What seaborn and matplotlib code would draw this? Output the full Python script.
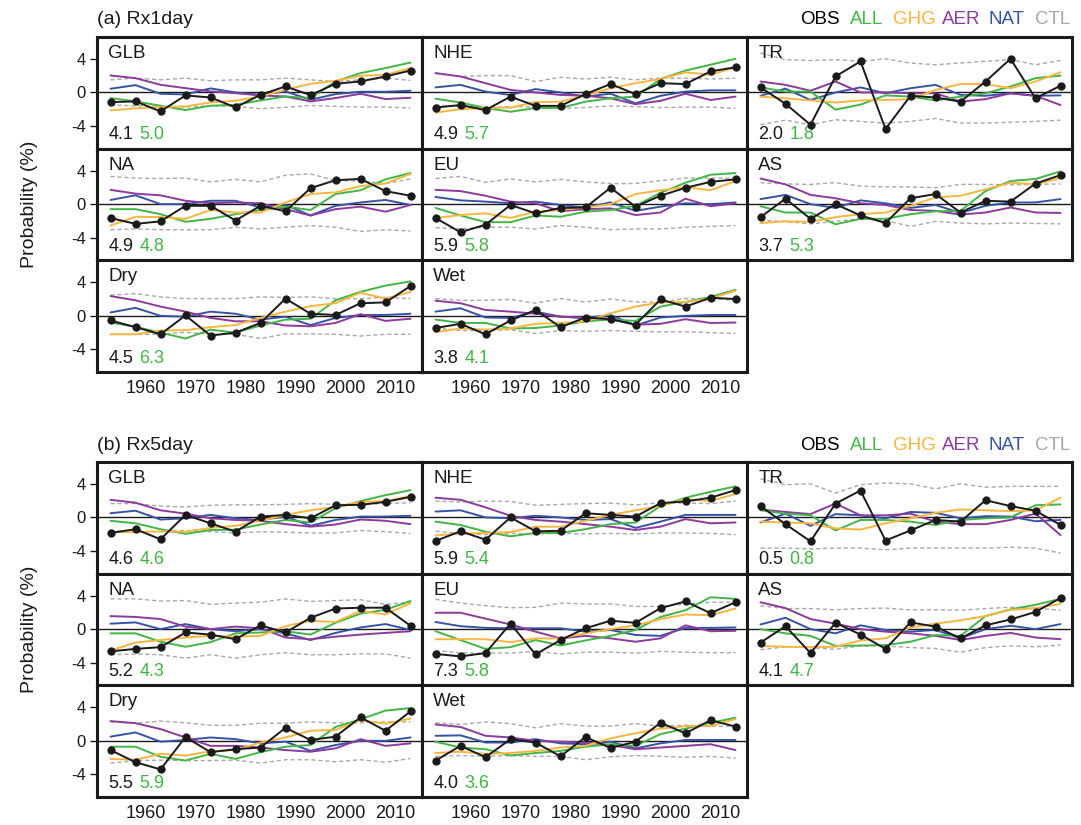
import numpy as np
import pandas as pd
import seaborn as sns
import matplotlib
matplotlib.use("Agg")
import matplotlib.pyplot as plt

# ---------------------------------------------------------------- data
years = list(range(1953, 2014, 5))
regions = ["GLB", "NHE", "TR", "NA", "EU", "AS", "Dry", "Wet"]
series = ["OBS", "ALL", "GHG", "AER", "NAT", "CTL"]
mypal = {"OBS": "#000000", "ALL": "#43b546", "GHG": "#f8b63f",
         "AER": "#8c3a9c", "NAT": "#3653a8", "CTL": "#a8a8a8"}

# each panel: OBS, ALL, GHG, AER, NAT, CTL upper, CTL lower (probability change, %)
rx1_GLB = [[-1.15, -1.07, -2.26, -0.36, -0.6, -1.78, -0.28, 0.71, -0.32, 1.03, 1.31, 1.9, 2.61],
           [-0.67, -1.07, -1.58, -2.1, -1.58, -1.47, -0.95, -0.48, -0.67, 1.31, 2.3, 2.9, 3.56],
           [-2.14, -1.9, -1.74, -1.66, -1.19, -0.99, -0.48, 0.32, 1.03, 1.39, 1.98, 2.1, 2.9],
           [2.02, 1.7, 0.91, 0.51, 0.12, -0.08, -0.36, -0.48, -1.07, -0.67, -0.16, -0.79, -0.63],
           [0.44, 0.87, -0.16, -0.24, 0.48, 0.0, -0.28, 0.12, -0.87, -0.2, 0.08, 0.08, 0.2],
           [1.5, 1.7, 1.5, 1.7, 1.39, 1.5, 1.5, 1.7, 1.5, 1.31, 1.5, 1.7, 1.43],
           [-1.47, -1.6, -1.66, -1.74, -1.6, -1.66, -1.94, -1.78, -1.55, -1.66, -1.74, -1.74, -1.86]]
rx1_NHE = [[-1.8, -1.5, -2.1, -0.5, -1.6, -1.6, -0.2, 1.0, -0.2, 1.1, 1.0, 2.5, 3.0],
           [-0.75, -1.2, -1.85, -2.3, -1.85, -1.85, -1.1, -0.7, -0.5, 1.6, 2.6, 3.3, 4.0],
           [-2.4, -2.0, -1.85, -1.8, -1.15, -1.1, -0.35, 0.5, 1.1, 1.6, 2.4, 2.1, 3.0],
           [2.3, 1.9, 1.1, 0.3, 0.0, -0.3, -0.4, -0.7, -1.4, -1.0, -0.15, -0.9, -0.5],
           [0.6, 0.9, 0.1, -0.3, 0.4, 0.0, -0.5, -0.15, -1.3, -0.4, 0.1, 0.25, 0.25],
           [2.3, 1.9, 2.0, 2.0, 1.3, 1.8, 1.6, 1.8, 1.5, 1.7, 1.7, 1.6, 1.7],
           [-1.5, -1.7, -1.8, -1.7, -1.7, -1.9, -1.8, -1.6, -1.7, -1.8, -1.75, -1.75, -1.9]]
rx1_TR = [[0.6, -1.35, -3.85, 1.9, 3.7, -4.35, -0.4, -0.6, -1.1, 1.3, 4.0, -0.7, 0.8],
          [0.6, 0.1, 0.1, -2.05, -1.45, -0.35, -0.5, -0.95, -0.5, -0.1, 0.7, 1.7, 2.0],
          [-0.5, -0.7, -0.95, -1.2, -0.95, -0.9, -0.8, 0.3, 1.0, 1.0, 0.5, 1.3, 2.4],
          [1.3, 0.9, 0.2, 1.3, 0.0, 0.0, -0.1, -0.1, -1.1, -0.8, -0.1, -0.4, -1.5],
          [-0.4, 0.45, -0.9, 0.0, 0.6, -0.1, 0.5, 0.9, -0.3, -0.4, -0.1, -0.4, -0.35],
          [4.7, 3.9, 3.8, 3.9, 3.7, 4.0, 3.5, 3.3, 3.5, 3.7, 3.9, 3.3, 3.8],
          [-3.85, -3.3, -3.85, -3.25, -3.45, -3.65, -3.45, -3.1, -3.65, -3.65, -3.55, -3.45, -3.3]]
rx1_NA = [[-1.65, -2.35, -2.05, -0.2, -0.2, -1.95, -0.2, -0.85, 1.9, 2.85, 3.0, 1.55, 1.0],
          [-0.6, -0.6, -1.2, -2.1, -1.75, -1.2, -0.7, -0.3, -0.7, 1.2, 1.65, 2.95, 3.7],
          [-2.55, -1.5, -1.55, -1.75, -0.7, -1.0, -1.0, 0.2, 1.2, 1.4, 2.15, 2.45, 3.6],
          [1.7, 1.25, 1.05, 0.4, 0.1, 0.2, 0.1, -0.6, -1.35, -0.6, -0.3, -0.9, -0.1],
          [0.5, 1.05, 0.0, 0.0, 0.4, 0.4, -0.4, -0.1, -1.35, -0.2, 0.2, 0.5, -0.1],
          [3.3, 3.1, 3.05, 3.1, 2.65, 2.95, 2.65, 3.45, 3.6, 2.8, 2.75, 2.45, 3.0],
          [-3.05, -2.95, -3.05, -3.05, -3.05, -2.75, -2.95, -2.75, -2.55, -2.75, -3.25, -3.05, -3.2]]
rx1_EU = [[-1.65, -3.35, -2.45, -0.1, -1.1, -0.45, -0.4, 1.95, -0.3, 1.0, 1.95, 2.65, 2.95],
          [-0.45, -1.35, -2.15, -2.15, -1.35, -1.5, -0.9, -0.7, -0.2, 1.35, 2.55, 3.5, 3.7],
          [-1.65, -1.3, -1.1, -1.65, -0.9, -0.7, -0.4, 0.0, 1.2, 1.65, 2.05, 1.65, 2.75],
          [1.7, 1.55, 1.0, 0.3, 0.1, -0.85, -0.6, -0.5, -1.3, -1.0, 0.65, -0.25, 0.1],
          [0.85, 0.45, 0.3, 0.1, 0.3, -0.1, -0.4, 0.2, -0.8, -0.3, 0.1, 0.0, 0.2],
          [3.05, 3.3, 2.6, 3.0, 2.65, 2.95, 2.65, 2.45, 2.45, 2.8, 3.1, 3.1, 3.1],
          [-2.8, -2.95, -2.75, -2.75, -2.95, -2.55, -2.75, -3.05, -2.95, -2.95, -2.75, -2.65, -2.55]]
rx1_AS = [[-1.55, 0.65, -1.75, 0.0, -1.35, -2.25, 0.7, 1.2, -1.0, 0.4, 0.3, 2.45, 3.45],
          [-0.25, -1.0, -1.0, -2.4, -1.75, -1.75, -1.2, -0.85, -0.8, 1.55, 2.75, 3.0, 3.9],
          [-2.25, -2.05, -2.1, -1.55, -1.2, -1.0, -0.2, 0.8, 1.0, 1.75, 2.55, 2.35, 3.1],
          [3.05, 2.35, 1.1, 0.7, 0.1, -0.1, -0.7, -0.8, -1.25, -1.0, -0.4, -1.0, -1.05],
          [0.6, 1.1, 0.0, -0.45, 0.45, 0.1, -0.45, -0.1, -1.05, -0.2, 0.2, 0.2, 0.6],
          [2.55, 2.4, 2.35, 2.55, 2.15, 2.05, 2.05, 1.95, 2.35, 2.35, 2.3, 2.35, 2.4],
          [-1.95, -2.05, -2.35, -2.05, -1.75, -1.95, -2.65, -2.05, -2.25, -2.35, -2.25, -2.3, -2.35]]
rx1_Dry = [[-0.55, -1.35, -2.2, 0.05, -2.35, -2.0, -0.85, 2.05, 0.25, 0.1, 1.5, 1.6, 3.55],
           [-0.8, -1.3, -2.0, -2.7, -1.65, -2.0, -1.15, -0.45, -0.35, 1.85, 2.85, 3.6, 4.1],
           [-2.2, -2.2, -1.75, -1.7, -1.35, -1.1, -0.25, 0.5, 1.15, 1.5, 2.75, 2.05, 2.85],
           [2.35, 1.85, 1.1, 0.5, -0.25, -0.65, -0.65, -1.15, -1.25, -0.85, 0.2, -0.6, -0.35],
           [0.4, 0.95, 0.0, -0.1, 0.5, 0.25, -0.45, -0.1, -1.1, -0.25, 0.1, 0.1, 0.25],
           [2.45, 2.65, 2.25, 2.05, 2.05, 2.05, 2.25, 2.2, 2.25, 2.05, 2.05, 2.2, 2.05],
           [-2.2, -2.2, -2.2, -1.95, -2.2, -2.2, -2.7, -2.15, -2.15, -2.2, -2.4, -2.2, -2.2]]
rx1_Wet = [[-1.45, -0.95, -2.2, -0.55, 0.7, -1.35, -0.2, -0.4, -1.05, 1.95, 1.1, 2.15, 2.0],
           [-0.45, -0.85, -0.85, -1.5, -1.45, -1.15, -0.65, -0.45, -0.6, 1.1, 1.65, 2.25, 3.1],
           [-1.95, -1.5, -1.65, -1.5, -0.95, -0.85, -0.65, 0.3, 1.1, 1.6, 1.65, 2.05, 3.0],
           [1.8, 1.5, 0.7, 0.5, 0.25, -0.1, -0.25, -0.35, -1.05, -0.95, -0.4, -0.85, -0.8],
           [0.5, 0.9, -0.2, -0.25, 0.5, -0.1, -0.25, 0.1, -1.15, -0.2, 0.0, 0.1, 0.1],
           [2.05, 1.85, 1.85, 1.95, 1.5, 2.05, 1.65, 2.0, 1.65, 1.65, 2.05, 2.05, 1.85],
           [-1.45, -1.75, -1.75, -1.65, -2.1, -1.75, -1.85, -1.75, -1.85, -1.9, -1.9, -2.0, -2.1]]

rx5_GLB = [[-1.85, -1.4, -2.6, 0.3, -0.7, -1.7, 0.1, 0.3, -0.1, 1.45, 1.5, 1.85, 2.45],
           [-0.4, -0.7, -1.4, -1.95, -1.5, -1.45, -0.85, -0.3, -0.6, 1.1, 1.95, 2.65, 3.25],
           [-1.75, -1.75, -1.65, -1.7, -1.25, -1.0, -0.4, 0.3, 0.85, 1.25, 1.85, 1.95, 2.55],
           [2.1, 1.75, 0.85, 0.45, -0.1, -0.3, -0.4, -0.8, -1.1, -0.85, -0.25, -0.4, -0.8],
           [0.5, 0.8, -0.25, -0.1, 0.3, -0.1, -0.3, 0.1, -1.0, -0.3, 0.1, 0.1, 0.2],
           [1.65, 1.65, 1.35, 1.25, 1.45, 1.5, 1.5, 1.55, 1.65, 1.55, 1.55, 1.65, 1.75],
           [-1.55, -1.7, -1.7, -1.55, -1.7, -1.85, -1.7, -1.75, -1.85, -1.85, -1.55, -1.7, -1.9]]
rx5_NHE = [[-2.8, -1.65, -2.65, 0.0, -1.65, -1.6, 0.5, 0.3, 0.1, 1.7, 1.9, 2.35, 3.25],
           [-0.5, -0.9, -1.7, -2.25, -1.85, -1.85, -1.4, -0.8, -0.6, 1.35, 2.35, 3.05, 3.7],
           [-2.15, -1.9, -1.85, -1.75, -1.1, -1.1, -0.4, 0.3, 0.85, 1.35, 2.2, 1.95, 2.8],
           [2.35, 2.1, 1.2, 0.2, -0.3, -0.5, -0.8, -1.1, -1.5, -1.1, -0.2, -0.7, -0.6],
           [0.7, 0.85, 0.0, -0.1, 0.2, 0.0, -0.3, -0.2, -1.25, -0.5, 0.3, 0.3, 0.3],
           [1.95, 1.85, 1.95, 1.9, 1.45, 1.55, 1.65, 1.7, 1.5, 1.75, 1.7, 1.65, 1.95],
           [-1.65, -1.9, -2.05, -1.9, -1.95, -1.9, -1.95, -1.9, -1.95, -1.85, -1.85, -1.9, -2.05]]
rx5_TR = [[1.35, -0.8, -2.85, 1.65, 3.2, -2.75, -1.55, -0.3, -0.5, 2.05, 1.35, 0.8, -0.9],
          [0.85, 0.45, 0.25, -1.55, -0.3, -0.3, -0.5, -0.9, -0.3, -0.1, 0.0, 1.45, 1.55],
          [-0.5, -0.6, -0.7, -1.3, -1.45, -0.7, -0.1, 0.55, 0.95, 0.85, 0.75, 0.85, 2.35],
          [0.95, 0.65, 0.4, 1.65, 0.25, 0.25, 0.45, -0.5, -0.8, -0.8, -0.3, 0.45, -2.1],
          [-0.6, 0.45, -1.0, 0.4, 0.25, -0.1, 0.65, 0.55, -0.1, 0.15, 0.1, -0.45, -0.3],
          [4.6, 3.9, 4.0, 2.9, 3.9, 4.1, 4.0, 3.4, 4.0, 3.6, 3.7, 3.7, 3.7],
          [-3.65, -3.65, -3.75, -3.65, -3.65, -3.85, -3.65, -3.65, -3.65, -3.65, -3.55, -3.65, -4.25]]
rx5_NA = [[-2.65, -2.35, -2.15, -0.4, -0.65, -1.2, 0.45, -0.4, 1.35, 2.45, 2.55, 2.55, 0.4],
          [-0.5, -0.5, -1.5, -2.1, -1.55, -0.5, -0.4, -0.25, -0.65, 0.75, 1.85, 2.3, 3.35],
          [-2.55, -1.6, -1.3, -1.0, -0.8, -0.9, -0.8, 0.35, 1.0, 0.85, 2.15, 1.75, 3.1],
          [1.55, 1.45, 1.2, 0.3, 0.0, 0.3, 0.1, -1.0, -1.2, -0.9, -0.65, -0.45, -0.25],
          [0.65, 0.8, 0.0, 0.6, 0.0, -0.25, 0.0, -0.5, -1.3, -0.45, 0.2, 0.6, -0.1],
          [3.6, 3.6, 3.35, 3.4, 2.95, 3.1, 3.2, 3.6, 3.3, 3.4, 3.5, 2.95, 3.2],
          [-3.05, -2.95, -3.05, -3.45, -3.05, -3.45, -3.05, -2.8, -3.05, -3.05, -2.95, -2.95, -3.45]]
rx5_EU = [[-2.95, -3.25, -2.85, 0.65, -3.0, -1.3, 0.1, 1.0, 0.75, 2.5, 3.3, 1.9, 3.2],
          [-0.25, -1.3, -2.35, -2.15, -1.3, -1.95, -1.35, -0.8, -0.1, 1.45, 2.25, 3.8, 3.6],
          [-1.2, -1.2, -1.2, -1.55, -1.1, -1.1, -0.5, 0.0, 0.45, 1.2, 1.75, 1.65, 2.45],
          [1.95, 1.95, 1.25, 0.55, -0.3, -1.1, -0.8, -1.1, -1.5, -1.1, 0.45, -0.25, -0.2],
          [0.85, 0.35, 0.15, 0.1, 0.1, 0.1, -0.3, -0.1, -0.7, -0.8, 0.15, 0.15, 0.2],
          [3.55, 3.1, 2.8, 2.55, 2.6, 3.1, 3.0, 3.0, 2.7, 2.7, 3.0, 3.2, 3.2],
          [-2.55, -2.85, -2.85, -2.85, -2.65, -2.95, -2.75, -2.75, -2.85, -2.65, -2.75, -2.8, -2.8]]
rx5_AS = [[-1.6, 0.35, -2.85, 0.75, -0.65, -2.35, 0.8, 0.3, -1.1, 0.45, 1.15, 2.05, 3.7],
          [0.0, -0.5, -0.8, -2.0, -1.95, -1.9, -1.5, -0.7, -0.8, 1.55, 2.35, 2.9, 3.6],
          [-2.0, -2.1, -2.15, -2.1, -1.35, -1.1, 0.2, 0.65, 1.05, 1.55, 2.3, 2.5, 3.0],
          [3.2, 2.5, 1.2, 0.65, 0.0, -0.3, -0.5, -0.8, -1.3, -0.8, -0.45, -1.0, -1.2],
          [0.55, 1.35, 0.0, -0.5, 0.45, -0.1, -0.3, -0.1, -1.1, 0.0, 0.4, 0.0, 0.6],
          [2.8, 2.45, 2.45, 2.3, 2.45, 2.5, 2.3, 2.3, 2.25, 2.45, 2.6, 2.5, 2.25],
          [-2.45, -2.1, -2.2, -2.4, -2.0, -2.0, -2.2, -2.3, -2.75, -2.2, -2.0, -2.1, -1.9]]
rx5_Dry = [[-1.1, -2.55, -3.4, 0.45, -1.35, -1.0, -0.8, 1.55, 0.1, 0.5, 2.8, 1.2, 3.5],
           [-0.7, -0.7, -1.9, -2.35, -1.55, -2.15, -1.35, -0.7, -0.5, 1.65, 2.55, 3.6, 3.9],
           [-2.15, -2.25, -1.55, -1.75, -1.25, -1.1, -0.2, 0.4, 1.2, 1.3, 2.45, 2.05, 2.65],
           [2.35, 2.1, 1.4, 0.4, -0.6, -0.6, -0.8, -1.1, -1.3, -0.9, 0.2, -0.6, -0.3],
           [0.5, 1.0, -0.1, 0.1, 0.4, 0.2, -0.3, -0.1, -1.2, -0.5, 0.0, 0.0, 0.4],
           [2.25, 2.1, 2.35, 2.15, 1.85, 1.85, 2.1, 2.1, 2.25, 2.15, 2.15, 2.25, 2.25],
           [-2.65, -2.35, -2.3, -2.35, -2.35, -2.3, -2.65, -2.25, -2.25, -2.5, -2.25, -2.55, -2.1]]
rx5_Wet = [[-2.35, -0.6, -1.95, 0.2, -0.2, -1.85, 0.45, -0.85, -0.1, 2.15, 0.9, 2.45, 1.7],
           [-0.1, -0.8, -1.0, -1.75, -1.45, -1.2, -0.7, -0.4, -0.6, 0.8, 1.45, 2.15, 2.75],
           [-1.45, -1.3, -1.55, -1.45, -1.2, -0.8, -0.6, 0.3, 0.9, 1.45, 1.75, 1.75, 2.6],
           [1.95, 1.65, 0.6, 0.4, 0.0, -0.1, -0.2, -0.5, -1.0, -0.8, -0.6, -0.4, -1.1],
           [0.6, 0.65, -0.2, -0.2, 0.2, -0.3, -0.4, -0.1, -0.9, -0.3, 0.1, 0.1, 0.1],
           [2.15, 1.95, 2.25, 2.05, 1.55, 2.05, 1.75, 1.75, 2.05, 1.75, 1.85, 1.75, 1.75],
           [-1.85, -1.75, -1.85, -1.75, -1.85, -1.85, -2.25, -1.9, -1.75, -1.85, -1.95, -1.85, -2.05]]

rx1_obs_score = ["4.1", "4.9", "2.0", "4.9", "5.9", "3.7", "4.5", "3.8"]
rx1_all_score = ["5.0", "5.7", "1.8", "4.8", "5.8", "5.3", "6.3", "4.1"]
rx5_obs_score = ["4.6", "5.9", "0.5", "5.2", "7.3", "4.1", "5.5", "4.0"]
rx5_all_score = ["4.6", "5.4", "0.8", "4.3", "5.8", "4.7", "5.9", "3.6"]

rx1_panels = [rx1_GLB, rx1_NHE, rx1_TR, rx1_NA, rx1_EU, rx1_AS, rx1_Dry, rx1_Wet]
rx5_panels = [rx5_GLB, rx5_NHE, rx5_TR, rx5_NA, rx5_EU, rx5_AS, rx5_Dry, rx5_Wet]

# ---------------------------------------------------------------- figure
sns.set_theme(style="white")
plt.rcParams['font.family'] = ['Liberation Sans', 'DejaVu Sans']
plt.rcParams['text.color'] = 'k'
plt.rcParams['xtick.color'] = 'k'
plt.rcParams['ytick.color'] = 'k'
plt.rcParams['axes.edgecolor'] = 'k'
W, H = 1081, 825
fig = plt.figure(figsize=(W / 100, H / 100), dpi=100)

colX = [97, 422, 747]
panW = 325
rowH = 111.7


def draw_group(panels, obs_sc, all_sc, top, title):
    for i, reg in enumerate(regions):
        r, c = divmod(i, 3)
        y0 = top + r * rowH
        ax = fig.add_axes([colX[c] / W, 1 - (y0 + rowH) / H, panW / W, rowH / H])
        d = panels[i]
        ax.axhline(0, color='k', lw=1.0, zorder=1)
        for k in (5, 6):
            sns.lineplot(x=years, y=d[k], ax=ax, color=mypal["CTL"], lw=1.0,
                         linestyle=(0, (3, 2)), zorder=2)
        for k, name in [(4, "NAT"), (3, "AER"), (1, "ALL"), (2, "GHG")]:
            sns.lineplot(x=years, y=d[k], ax=ax, color=mypal[name], lw=1.4, zorder=3)
        sns.lineplot(x=years, y=d[0], ax=ax, color='k', lw=1.4, marker='o',
                     markersize=5.2, markeredgecolor='k', zorder=4)
        ax.set_xlim(1950.3, 2015.3)
        ax.set_ylim(-6.7, 6.6)
        for s in ax.spines.values():
            s.set_color('k')
            s.set_linewidth(2.2)
        ax.set_xlabel('')
        ax.set_ylabel('')
        ax.text(0.035, 0.93, reg, transform=ax.transAxes, fontsize=13.5,
                va='top', ha='left')
        ax.text(0.035, 0.05, obs_sc[i], transform=ax.transAxes, fontsize=13,
                va='bottom', ha='left', color='k')
        ax.text(0.13, 0.05, all_sc[i], transform=ax.transAxes, fontsize=13,
                va='bottom', ha='left', color=mypal["ALL"])
        if c == 0:
            ax.set_yticks([-4, 0, 4])
            ax.set_yticklabels(['-4', '0', '4'], fontsize=12)
            ax.tick_params(axis='y', direction='out', length=5, width=1,
                           left=True, pad=3)
        else:
            ax.set_yticks([])
        if r == 2:
            ax.set_xticks([1960, 1970, 1980, 1990, 2000, 2010])
            ax.set_xticklabels(['1960', '1970', '1980', '1990', '2000', '2010'],
                               fontsize=13)
            ax.tick_params(axis='x', length=0, pad=6)
        else:
            ax.set_xticks([])
    # group title and legend labels
    fig.text(97 / W, 1 - (top - 17) / H, title, fontsize=14, ha='left', va='center')
    xs = [820, 867, 914, 961, 1007, 1053]
    for nm, x in zip(series, xs):
        fig.text(x / W, 1 - (top - 17) / H, nm, fontsize=13.5, ha='center',
                 va='center', color=mypal[nm])
    fig.text(30 / W, 1 - (top + 1.5 * rowH) / H, 'Probability (%)', fontsize=14,
             rotation=90, ha='center', va='center')


draw_group(rx1_panels, rx1_obs_score, rx1_all_score, 37, '(a) Rx1day')
draw_group(rx5_panels, rx5_obs_score, rx5_all_score, 462, '(b) Rx5day')

fig.savefig('out.png', dpi=100)
